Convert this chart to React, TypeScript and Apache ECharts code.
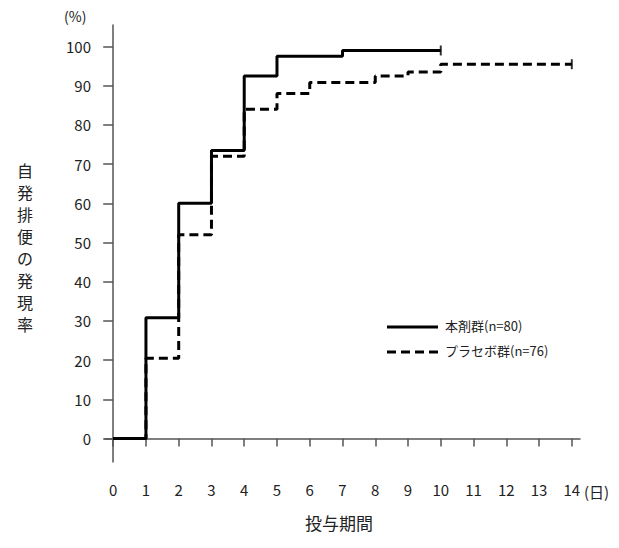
import React, { useEffect, useRef } from "react";
import * as echarts from "echarts";

const days = [0, 1, 2, 3, 4, 5, 6, 7, 8, 9, 10, 11, 12, 13, 14];
const yTicks = [0, 10, 20, 30, 40, 50, 60, 70, 80, 90, 100];
const drugX = [0, 1, 2, 3, 4, 5, 7, 10];
const drugY = [0, 30.8, 60, 73.5, 92.5, 97.5, 99, 99];
const placeboX = [0, 1, 2, 3, 4, 5, 6, 8, 9, 10, 14];
const placeboY = [0, 20.5, 52, 72, 84, 88, 90.8, 92.5, 93.5, 95.5, 95.5];
const drugName = "本剤群(n=80)";
const placeboName = "プラセボ群(n=76)";
const yTitle = ["自", "発", "排", "便", "の", "発", "現", "率"];

export default function App() {
  const ref = useRef<HTMLDivElement>(null);
  useEffect(() => {
    const chart = echarts.init(ref.current!, null, { renderer: "svg" });
    const font = "'Noto Sans CJK JP', 'Noto Sans', sans-serif";
    chart.setOption({
      animation: false,
      textStyle: { fontFamily: font },
      grid: { left: 105, right: 39, top: 25, bottom: 86 },
      xAxis: {
        type: "value", min: -0.25, max: 14.25,
        splitLine: { show: false },
        axisLine: { lineStyle: { color: "#555", width: 1.5 } },
        axisTick: { customValues: days, length: 8, lineStyle: { color: "#555", width: 1.5 } },
        axisLabel: { customValues: days, color: "#222", fontSize: 15, margin: 20, fontFamily: font },
      },
      yAxis: {
        type: "value", min: -6, max: 105.5,
        splitLine: { show: false },
        axisLine: { show: true, lineStyle: { color: "#555", width: 1.5 } },
        axisTick: { show: true, customValues: yTicks, length: 10, lineStyle: { color: "#555", width: 1.5 } },
        axisLabel: { customValues: yTicks, color: "#222", fontSize: 15, margin: 14, fontFamily: font },
      },
      graphic: [
        { type: "text", left: 64, top: 9, style: { text: "(%)", fontSize: 14, fill: "#222", fontFamily: font } },
        { type: "text", left: 584, top: 484, style: { text: "(日)", fontSize: 15, fill: "#222", fontFamily: font } },
        { type: "text", left: 305, top: 514, style: { text: "投与期間", fontSize: 17, fill: "#222", fontFamily: font } },
        ...yTitle.map((c, i) => ({
          type: "text", left: 17, top: 162 + i * 22, style: { text: c, fontSize: 16, fill: "#222", fontFamily: font },
        })),
        { type: "line", shape: { x1: 387, y1: 327, x2: 438, y2: 327 }, style: { stroke: "#000", lineWidth: 3 } },
        { type: "line", shape: { x1: 387, y1: 352, x2: 438, y2: 352 }, style: { stroke: "#000", lineWidth: 3, lineDash: [9, 5] } },
        { type: "text", left: 445, top: 319, style: { text: drugName, fontSize: 13, fill: "#222", fontFamily: font } },
        { type: "text", left: 445, top: 344, style: { text: placeboName, fontSize: 13, fill: "#222", fontFamily: font } },
      ],
      series: [
        {
          type: "line", step: "end", symbol: "none", data: drugX.map((x, i) => [x, drugY[i]]),
          lineStyle: { color: "#000", width: 3 },
        },
        {
          type: "line", step: "end", symbol: "none", data: placeboX.map((x, i) => [x, placeboY[i]]),
          lineStyle: { color: "#000", width: 3, type: [9, 5] },
        },
        {
          type: "scatter", symbol: "rect", symbolSize: [2, 10], itemStyle: { color: "#000" },
          data: [[drugX[drugX.length - 1], drugY[drugY.length - 1]], [placeboX[placeboX.length - 1], placeboY[placeboY.length - 1]]],
        },
      ],
    });
    return () => chart.dispose();
  }, []);
  return <div ref={ref} style={{ position: "absolute", left: 0, top: 0, width: 619, height: 548 }} />;
}
